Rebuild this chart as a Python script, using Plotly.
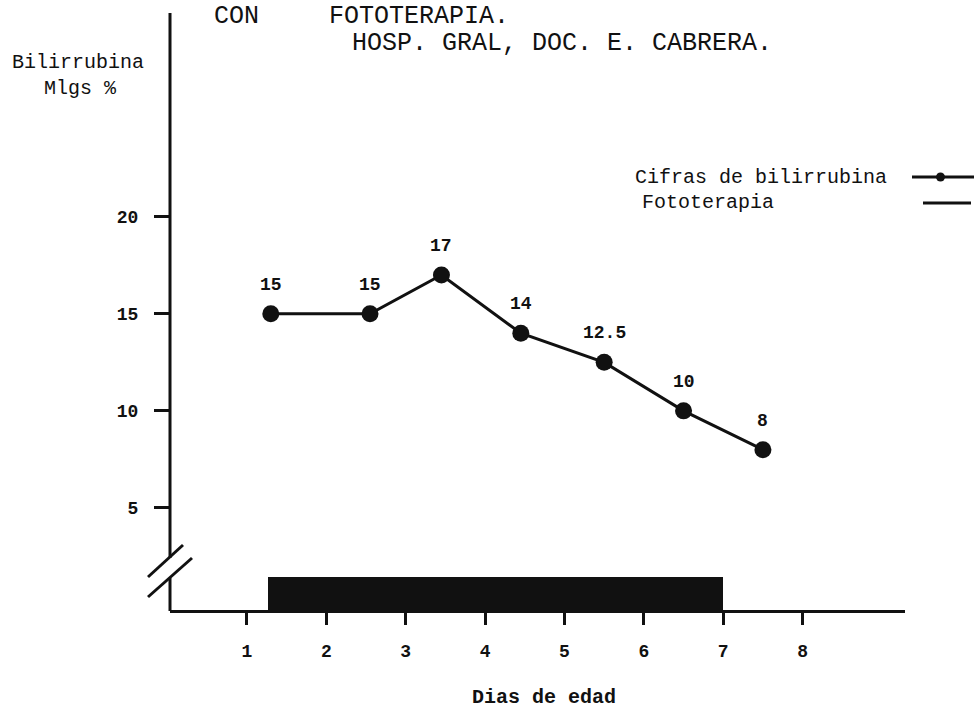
import plotly.graph_objects as go

# ---- data ----
dias = [1.3, 2.55, 3.45, 4.45, 5.5, 6.5, 7.5]
bilirrubina = [15, 15, 17, 14, 12.5, 10, 8]
etiquetas = ["15", "15", "17", "14", "12.5", "10", "8"]

foto_inicio = 1.26
foto_fin = 7.0
foto_altura = 1.45

x_ticks = [1, 2, 3, 4, 5, 6, 7, 8]
y_ticks = [5, 10, 15, 20]

# ---- layout geometry (page pixels) ----
W, H = 974, 709
L, R, T, B = 170, 69, 13, 99
PW, PH = W - L - R, H - T - B
Y_MIN, Y_MAX = -0.26, 30.5
X_MIN, X_MAX = 0.03, 9.29


def px(x):
    return (x - L) / PW


def py(y):
    return (H - B - y) / PH


FONT = "Liberation Mono"
INK = "#111111"

fig = go.Figure()

# Fototerapia bar
fig.add_trace(go.Bar(
    x=[(foto_inicio + foto_fin) / 2],
    y=[foto_altura - Y_MIN],
    base=[Y_MIN],
    width=[foto_fin - foto_inicio],
    marker=dict(color=INK, line=dict(width=0)),
    showlegend=False,
    hoverinfo="skip",
))

# Bilirubin series
fig.add_trace(go.Scatter(
    x=dias, y=bilirrubina,
    mode="lines+markers",
    line=dict(color=INK, width=3),
    marker=dict(color=INK, size=17, symbol="circle"),
    showlegend=False,
    cliponaxis=False,
))

annotations = []
for xv, yv, t in zip(dias, bilirrubina, etiquetas):
    annotations.append(dict(
        x=xv, y=yv, xref="x", yref="y", text=f"<b>{t}</b>", showarrow=False,
        yshift=29, font=dict(family=FONT, size=18, color=INK),
    ))


def txt(text, x, y, size, xanchor="center", bold=False):
    annotations.append(dict(
        x=px(x), y=py(y), xref="paper", yref="paper",
        text=f"<b>{text}</b>" if bold else text, showarrow=False,
        xanchor=xanchor, yanchor="middle",
        font=dict(family=FONT, size=size, color=INK),
    ))


txt("CON", 236, 17, 25)
txt("FOTOTERAPIA.", 327, 17, 25, xanchor="left")
txt("HOSP. GRAL, DOC. E. CABRERA.", 350, 43, 25, xanchor="left")
txt("Bilirrubina", 78, 63, 20)
txt("Mlgs %", 80, 88, 20)
txt("Cifras de bilirrubina", 889, 178, 20, xanchor="right")
txt("Fototerapia", 640, 203, 20, xanchor="left")
txt("Dias de edad", 544, 698, 20, bold=True)

shapes = []


def seg(x0, y0, x1, y1, w=3):
    shapes.append(dict(type="line", xref="paper", yref="paper",
                       x0=px(x0), y0=py(y0), x1=px(x1), y1=py(y1),
                       line=dict(color=INK, width=w)))


# y axis with break
seg(170, 13, 170, 558)
seg(170, 578, 170, 611)
seg(148, 577, 183, 545)
seg(148, 597, 192, 558)
# legend symbols
seg(912, 177, 974, 177, 3)
seg(923, 203, 971, 203, 3)
shapes.append(dict(type="circle", xref="paper", yref="paper",
                   x0=px(936), x1=px(945), y0=py(181.5), y1=py(172.5),
                   fillcolor=INK, line=dict(color=INK, width=0)))

fig.update_layout(
    width=W, height=H,
    margin=dict(l=L, r=R, t=T, b=B),
    paper_bgcolor="white", plot_bgcolor="white",
    annotations=annotations, shapes=shapes,
    bargap=0,
    font=dict(family=FONT, color=INK),
)

fig.update_xaxes(
    range=[X_MIN, X_MAX], tickvals=x_ticks,
    ticktext=[f"<b>{v}</b>" for v in x_ticks],
    showline=True, linecolor=INK, linewidth=3,
    ticks="outside", ticklen=12, tickwidth=3, tickcolor=INK,
    showgrid=False, zeroline=False,
    tickfont=dict(family=FONT, size=18, color=INK),
    ticklabelstandoff=10,
)
fig.update_yaxes(
    range=[Y_MIN, Y_MAX], tickvals=y_ticks,
    ticktext=[f"<b>{v}</b>" for v in y_ticks],
    showline=False,
    ticks="outside", ticklen=15, tickwidth=3, tickcolor=INK,
    showgrid=False, zeroline=False,
    tickfont=dict(family=FONT, size=18, color=INK),
    ticklabelstandoff=12,
)

fig.write_html(
    "out.html",
    config={"displayModeBar": False},
    post_script="document.body.style.margin='0';document.body.style.overflow='hidden';",
)
